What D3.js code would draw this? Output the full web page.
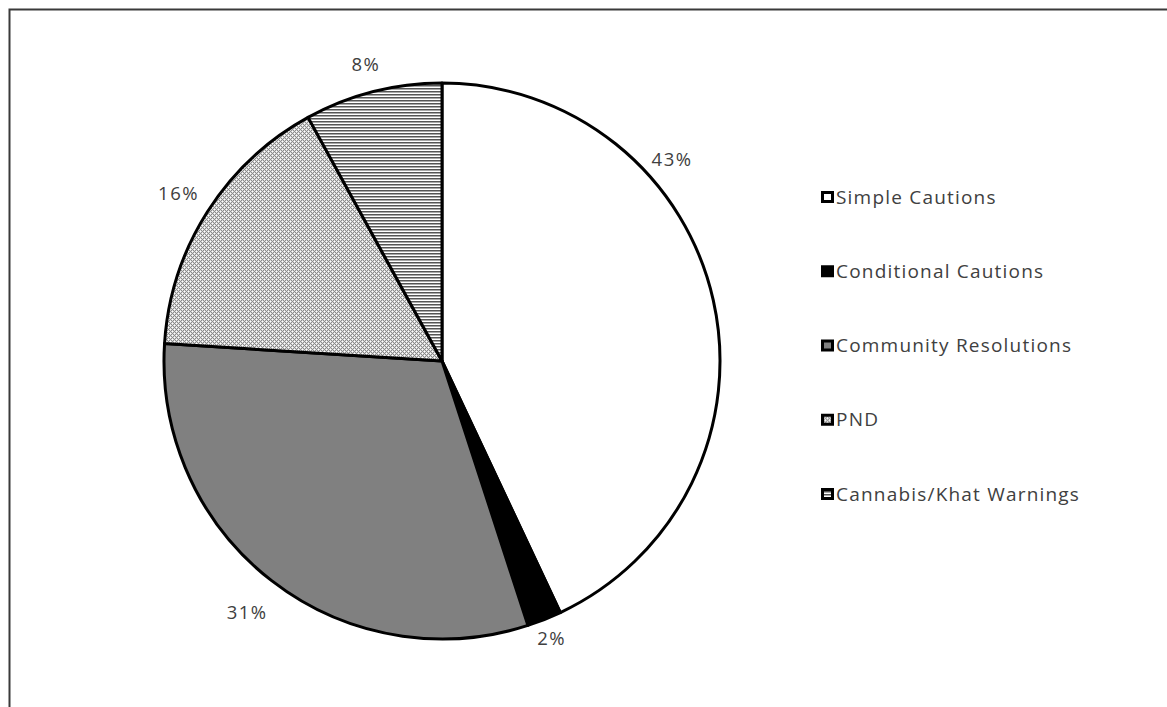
<!DOCTYPE html>
<html>
<head>
<meta charset="utf-8">
<script src="https://cdn.jsdelivr.net/npm/d3@7"></script>
<style>
    html, body { margin: 0; padding: 0; background: #fff; }
    svg text { font-family: "Open Sans", "DejaVu Sans", sans-serif; fill: #404040; }
</style>
</head>
<body>
<svg id="chart" width="1167" height="707"></svg>
<script>
const categories = ["Simple Cautions", "Conditional Cautions", "Community Resolutions", "PND", "Cannabis/Khat Warnings"];
const shares = [43, 2, 31, 16, 8];
const shareLabels = ["43%", "2%", "31%", "16%", "8%"];

const width = 1167, height = 707;
const svg = d3.select("#chart");

// patterns that mimic the excel greyscale fills
const defs = svg.append("defs");

const stripes = defs.append("pattern")
    .attr("id", "stripes")
    .attr("patternUnits", "userSpaceOnUse")
    .attr("width", 6).attr("height", 3);
stripes.append("rect").attr("width", 6).attr("height", 3).attr("fill", "#ffffff");
stripes.append("rect").attr("width", 6).attr("height", 1).attr("fill", "#555555");
stripes.append("rect").attr("y", 1).attr("width", 6).attr("height", 1).attr("fill", "#a8a8a8");

const dots = defs.append("pattern")
    .attr("id", "dots")
    .attr("patternUnits", "userSpaceOnUse")
    .attr("width", 4).attr("height", 4);
dots.append("rect").attr("width", 4).attr("height", 4).attr("fill", "#8c8c8c");
[[0, 0], [2, 2]].forEach(([x, y]) => {
    dots.append("rect").attr("x", x).attr("y", y).attr("width", 1).attr("height", 1).attr("fill", "#ffffff");
});
[[1, 0], [0, 1], [3, 2], [2, 3], [2, 1], [1, 2], [3, 0], [0, 3]].forEach(([x, y]) => {
    dots.append("rect").attr("x", x).attr("y", y).attr("width", 1).attr("height", 1).attr("fill", "#d8d8d8");
});

const fills = ["#ffffff", "#000000", "#808080", "url(#dots)", "url(#stripes)"];
const color = d3.scaleOrdinal().domain(categories).range(fills);

// frame (only top and left edges show in the capture)
svg.append("path")
    .attr("d", `M9.5,${height} V9.5 H${width}`)
    .attr("fill", "none")
    .attr("stroke", "#3a3a3a")
    .attr("stroke-width", 2);

const cx = 442, cy = 361, r = 278;
const g = svg.append("g").attr("transform", `translate(${cx},${cy})`);

const pie = d3.pie().sort(null).value(d => d.value);
const arcs = pie(categories.map((c, i) => ({ name: c, value: shares[i], label: shareLabels[i] })));
const arc = d3.arc().innerRadius(0).outerRadius(r);

g.selectAll("path.slice")
    .data(arcs)
    .enter().append("path")
    .attr("class", "slice")
    .attr("d", arc)
    .attr("fill", d => color(d.data.name))
    .attr("stroke", "#000")
    .attr("stroke-width", 3)
    .attr("stroke-linejoin", "round");

// excel "best fit" pushes the big slice label upward
const labelShift = { "Simple Cautions": -0.5 };
const labelRadius = { "Simple Cautions": 306, "Conditional Cautions": 298, "Community Resolutions": 318, "PND": 312, "Cannabis/Khat Warnings": 306 };
g.selectAll("text.pct")
    .data(arcs)
    .enter().append("text")
    .attr("class", "pct")
    .attr("text-anchor", "middle")
    .attr("dy", "0.35em")
    .style("font-size", "18.5px")
    .style("letter-spacing", "1.5px")
    .attr("transform", d => {
        const a = (d.startAngle + d.endAngle) / 2 + (labelShift[d.data.name] || 0);
        const rr = labelRadius[d.data.name];
        return `translate(${rr * Math.sin(a)},${-rr * Math.cos(a)})`;
    })
    .text(d => d.data.label);

// legend
const legendY = d3.scalePoint().domain(categories).range([197, 494]);
const legend = svg.append("g").attr("class", "legend");
const item = legend.selectAll("g")
    .data(categories)
    .enter().append("g")
    .attr("transform", d => `translate(821,${legendY(d)})`);

item.append("rect")
    .attr("x", 1.5).attr("y", -4.5)
    .attr("width", 10).attr("height", 9)
    .attr("fill", d => color(d))
    .attr("stroke", "#000")
    .attr("stroke-width", 3);

item.append("text")
    .attr("x", 15)
    .attr("dy", "0.35em")
    .style("font-size", "19px")
    .style("letter-spacing", "1.2px")
    .text(d => d);
</script>
</body>
</html>
